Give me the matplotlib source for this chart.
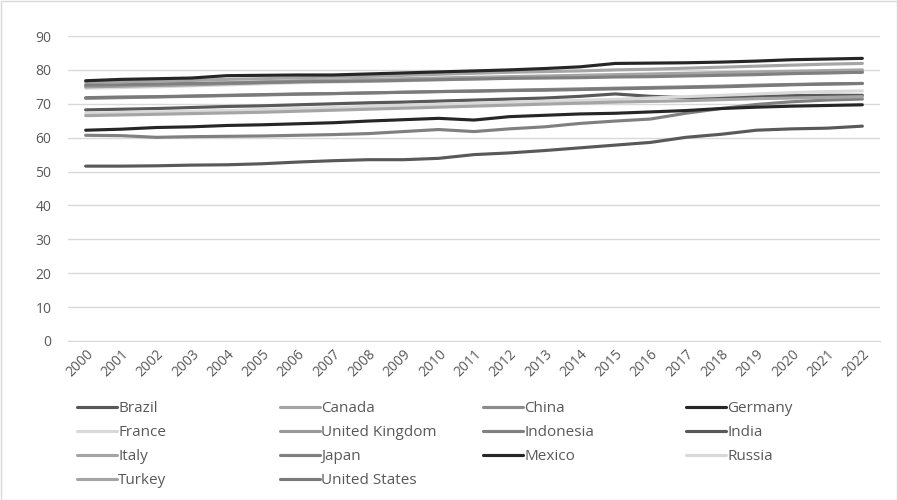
import matplotlib
matplotlib.use('Agg')
import matplotlib.pyplot as plt
from matplotlib.lines import Line2D

years = [str(y) for y in range(2000, 2023)]

# life expectancy style series
brazil = [68.2, 68.4, 68.6, 68.9, 69.2, 69.4, 69.7, 70.0, 70.3, 70.5, 70.8, 71.1, 71.4, 71.7, 72.2, 72.9, 72.2, 71.8, 72.0, 72.2, 72.4, 72.5, 72.5]
canada = [76.3, 76.5, 76.7, 76.9, 77.2, 77.4, 77.7, 77.9, 78.1, 78.4, 78.7, 79.0, 79.3, 79.5, 79.7, 80.0, 80.2, 80.5, 80.8, 81.1, 81.4, 81.7, 81.9]
china = [71.6, 71.8, 72.0, 72.2, 72.4, 72.6, 72.8, 73.0, 73.2, 73.4, 73.6, 73.8, 74.0, 74.2, 74.4, 74.6, 74.8, 75.0, 75.2, 75.5, 75.7, 75.9, 76.0]
germany = [76.8, 77.2, 77.4, 77.6, 78.3, 78.4, 78.5, 78.5, 78.8, 79.1, 79.4, 79.7, 80.0, 80.4, 80.9, 81.9, 82.0, 82.1, 82.3, 82.6, 83.0, 83.2, 83.4]
france = [74.6, 74.8, 75.0, 75.3, 75.6, 75.9, 76.2, 76.4, 76.6, 76.8, 77.1, 77.3, 77.6, 77.8, 78.0, 78.2, 78.4, 78.6, 78.8, 79.0, 79.2, 79.4, 79.6]
united_kingdom = [75.0, 75.2, 75.4, 75.6, 75.9, 76.2, 76.5, 76.8, 77.0, 77.2, 77.4, 77.6, 77.8, 78.0, 78.2, 78.3, 78.5, 78.7, 78.9, 79.0, 79.1, 79.2, 79.3]
indonesia = [60.7, 60.6, 60.1, 60.3, 60.4, 60.5, 60.7, 60.9, 61.2, 61.8, 62.4, 61.8, 62.6, 63.2, 64.2, 64.9, 65.5, 67.2, 68.6, 69.8, 70.6, 71.1, 71.4]
india = [51.6, 51.6, 51.7, 51.9, 52.0, 52.3, 52.8, 53.2, 53.5, 53.5, 53.9, 55.0, 55.5, 56.2, 57.0, 57.8, 58.6, 60.1, 61.0, 62.2, 62.6, 62.8, 63.4]
italy = [75.2, 75.4, 75.6, 75.9, 76.2, 76.5, 76.8, 77.0, 77.2, 77.4, 77.6, 77.8, 78.0, 78.2, 78.4, 78.6, 78.8, 79.0, 79.2, 79.4, 79.6, 79.8, 80.0]
japan = [75.5, 75.6, 75.8, 76.0, 76.1, 76.3, 76.5, 76.6, 76.7, 76.9, 77.1, 77.3, 77.5, 77.6, 77.7, 77.9, 78.0, 78.2, 78.4, 78.6, 78.9, 79.1, 79.3]
mexico = [62.2, 62.5, 63.0, 63.2, 63.6, 63.8, 64.1, 64.4, 64.9, 65.3, 65.7, 65.2, 66.2, 66.6, 67.0, 67.2, 67.6, 68.0, 68.6, 69.0, 69.3, 69.5, 69.7]
russia = [67.2, 67.4, 67.6, 67.8, 68.0, 68.3, 68.6, 68.9, 69.2, 69.5, 69.8, 70.1, 70.4, 70.7, 71.0, 71.3, 71.7, 72.1, 72.5, 72.9, 73.3, 73.6, 73.8]
turkey = [66.5, 66.7, 66.9, 67.1, 67.3, 67.5, 67.8, 68.1, 68.4, 68.7, 69.0, 69.3, 69.6, 69.9, 70.2, 70.5, 70.7, 70.9, 71.2, 71.5, 71.7, 71.9, 72.1]
united_states = [71.8, 72.0, 72.1, 72.3, 72.5, 72.7, 72.9, 73.0, 73.2, 73.4, 73.6, 73.7, 73.9, 74.0, 74.2, 74.4, 74.6, 74.8, 75.0, 75.3, 75.6, 75.8, 76.0]

series = [
    ('Brazil', brazil, '#595959'),
    ('Canada', canada, '#a5a5a5'),
    ('China', china, '#8c8c8c'),
    ('Germany', germany, '#262626'),
    ('France', france, '#d9d9d9'),
    ('United Kingdom', united_kingdom, '#999999'),
    ('Indonesia', indonesia, '#808080'),
    ('India', india, '#595959'),
    ('Italy', italy, '#a5a5a5'),
    ('Japan', japan, '#808080'),
    ('Mexico', mexico, '#262626'),
    ('Russia', russia, '#d9d9d9'),
    ('Turkey', turkey, '#a5a5a5'),
    ('United States', united_states, '#7a7a7a'),
]

plt.rcParams['font.family'] = ['Open Sans', 'DejaVu Sans']
text_color = '#595959'

fig = plt.figure(figsize=(8.97, 5.0), dpi=100)
ax = fig.add_axes([68 / 897, 1 - 341 / 500, (880 - 68) / 897, (341 - 36) / 500])

x = list(range(len(years)))
for name, vals, color in series:
    ax.plot(x, vals, color=color, lw=2.25, solid_capstyle='round', label=name)

ax.set_xlim(-0.5, len(years) - 0.5)
ax.set_ylim(0, 90)
ax.set_yticks(range(0, 91, 10))
ax.set_xticks(x)
ax.set_xticklabels(years, rotation=45, ha='right', rotation_mode='anchor')
ax.tick_params(axis='both', length=0, colors=text_color, labelsize=10)
ax.tick_params(axis='y', pad=12)
ax.tick_params(axis='x', pad=4)
ax.grid(axis='y', color='#d9d9d9', lw=1)
ax.set_axisbelow(True)
for s in ['top', 'right', 'left']:
    ax.spines[s].set_visible(False)
ax.spines['bottom'].set_color('#d9d9d9')

# Excel style legend: 4 columns, rows filled left to right
col_x = [77, 280, 483, 686]
for c in range(4):
    items = series[c::4]
    handles = [Line2D([], [], color=col, lw=2.25, solid_capstyle='round') for _, _, col in items]
    leg = fig.legend(handles, [n for n, _, _ in items], loc='upper left',
                     bbox_to_anchor=(col_x[c] / 897, 1 - 401 / 500), frameon=False,
                     fontsize=11, handlelength=2.6, handletextpad=0.1,
                     labelspacing=0.6, borderaxespad=0, borderpad=0)
    for t in leg.get_texts():
        t.set_color(text_color)

# chart border
fig.patches.append(plt.Rectangle((0.5 / 897, 0.5 / 500), 1 - 1 / 897, 1 - 1 / 500,
                                 transform=fig.transFigure, fill=False, ec='#d9d9d9', lw=1))

fig.savefig('out.png', dpi=100)
